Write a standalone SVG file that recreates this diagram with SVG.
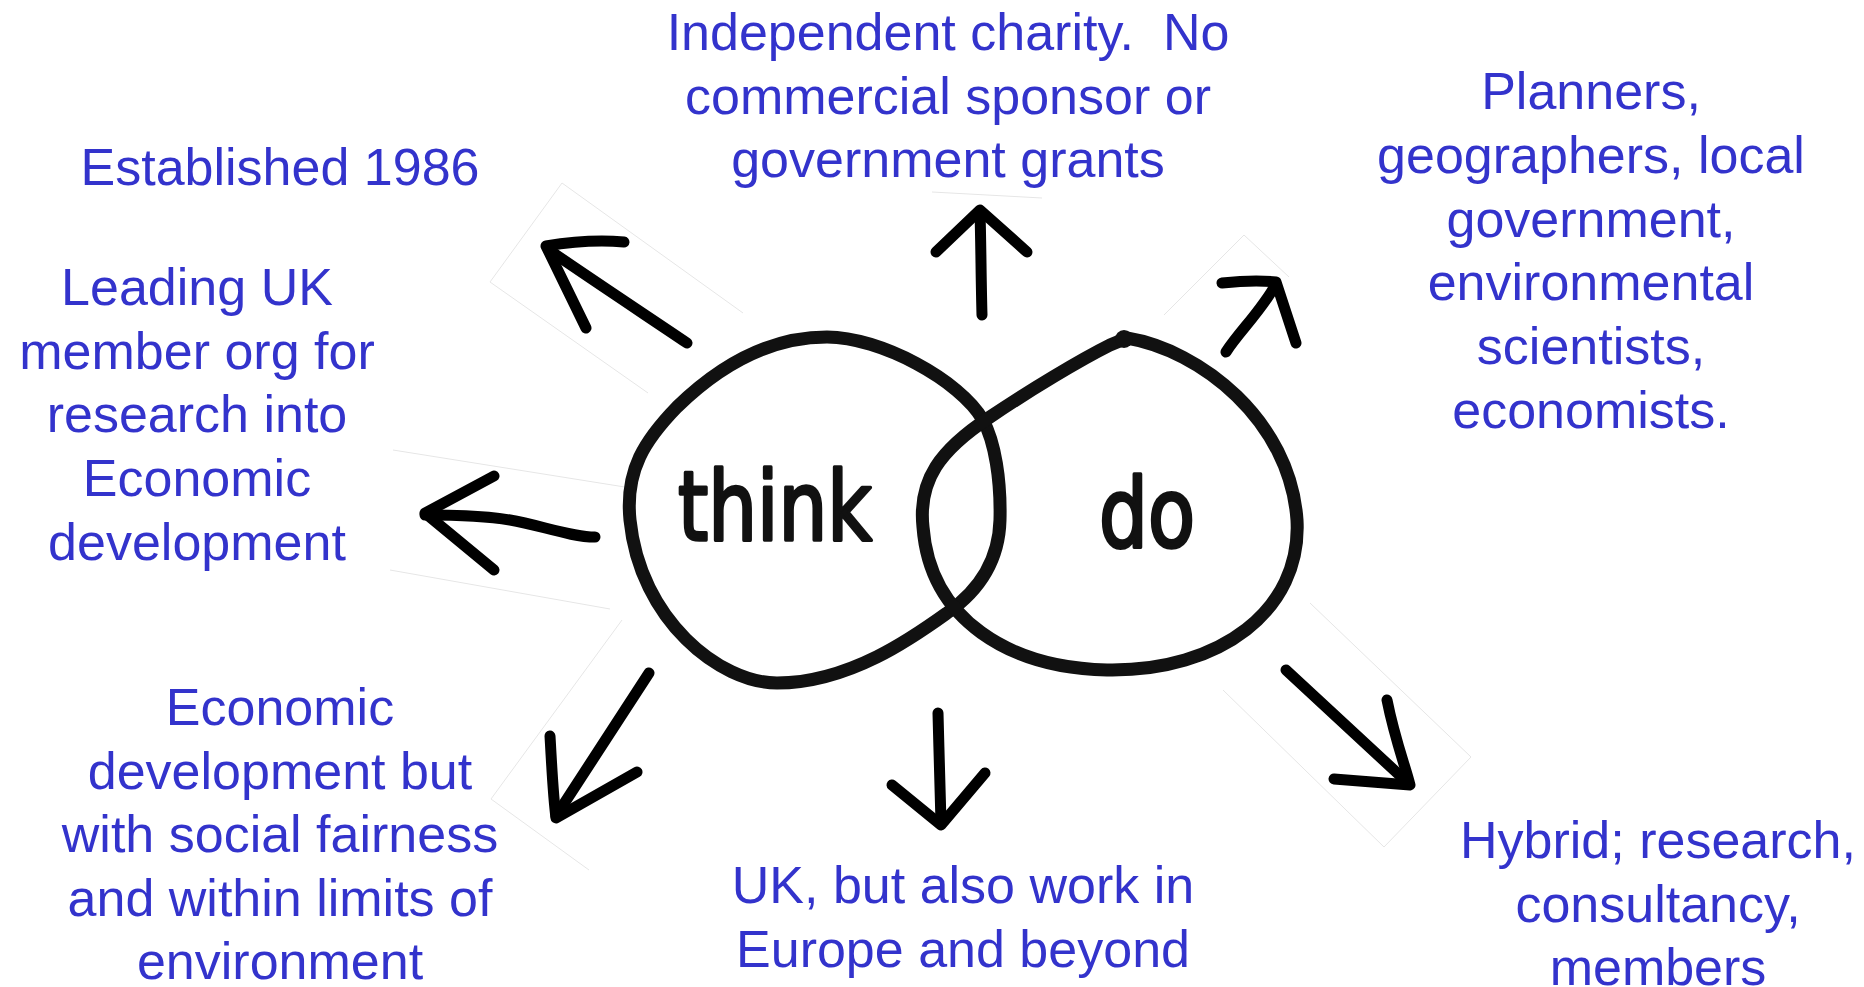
<svg xmlns="http://www.w3.org/2000/svg" width="1864" height="987" viewBox="0 0 1864 987">
  <defs>
    <style>
      .lbl { font-family: "Liberation Sans", Arial, sans-serif; font-size: 52px; fill: #3333cc; text-anchor: middle; }
      .hand { font-family: "DejaVu Sans", sans-serif; font-weight: normal; font-size: 96px; fill: #111111; stroke: #111111; stroke-width: 3.5; stroke-linejoin: round; }
      .loop { fill: none; stroke: #111111; stroke-width: 13; stroke-linecap: round; stroke-linejoin: round; }
      .arrow { fill: none; stroke: #000000; stroke-width: 11; stroke-linecap: round; stroke-linejoin: round; }
      .edge { fill: none; stroke: #e6e6e6; stroke-width: 1; }
    </style>
  </defs>
  <rect x="0" y="0" width="1864" height="987" fill="#ffffff"/>

  <g id="faint-edges">
    <path class="edge" d="M562,183 L490,282 L648,393 M562,183 L743,313"/>
    <path class="edge" d="M393,450 L631,488 M390,570 L610,609"/>
    <path class="edge" d="M622,620 L491,799 L589,870"/>
    <path class="edge" d="M1310,603 L1471,757 L1384,847 L1223,690"/>
    <path class="edge" d="M1244,235 L1164,315 M1244,235 L1289,277"/>
    <path class="edge" d="M932,192 L1042,198"/>
  </g>

  <g id="think-circle">
    <path class="loop" d="M827,337 C880,337 960,380 983,420 C995,442 1001,480 1000,520 C999,560 980,590 947,613 C915,636 850,683 777,683 C720,683 640,620 630,520 C625,470 645,440 677,407 C720,365 770,337 827,337 Z"/>
    <text class="hand" x="678" y="540" textLength="194" lengthAdjust="spacingAndGlyphs">think</text>
  </g>

  <g id="do-circle">
    <path class="loop" d="M1127,338 C1200,350 1290,420 1297,520 C1302,610 1220,672 1107,670 C1010,668 930,620 923,527 C918,480 940,450 990,417 C1030,390 1080,360 1110,345 L1127,338 Z"/>
    <circle cx="1124" cy="339" r="9" fill="#111111"/>
    <text class="hand" x="1099" y="547" textLength="96" lengthAdjust="spacingAndGlyphs">do</text>
  </g>

  <g id="connectors">
    <path class="arrow" d="M687,343 C650,318 600,285 549,250"/>
    <path class="arrow" d="M624,242 C600,240 570,242 546,246 L586,328"/>
    <path class="arrow" d="M982,315 C981,280 981,245 980,212"/>
    <path class="arrow" d="M936,252 L980,210 L1027,252"/>
    <path class="arrow" d="M1226,352 C1238,333 1262,310 1276,284"/>
    <path class="arrow" d="M1222,283 C1240,281 1260,280 1276,282 L1296,343"/>
    <path class="arrow" d="M595,537 C570,537 540,525 510,520 C480,515 450,515 425,515"/>
    <path class="arrow" d="M494,476 L425,513 L494,570"/>
    <path class="arrow" d="M649,673 L556,816"/>
    <path class="arrow" d="M550,736 C552,770 553,795 556,818 L637,772"/>
    <path class="arrow" d="M938,713 C939,750 940,790 941,823"/>
    <path class="arrow" d="M892,785 L941,825 L985,773"/>
    <path class="arrow" d="M1286,670 L1408,783"/>
    <path class="arrow" d="M1387,700 C1395,740 1405,765 1410,785 L1334,779"/>
  </g>

  <g id="established">
    <text class="lbl" x="280" y="185">Established 1986</text>
  </g>

  <g id="charity">
    <text class="lbl" x="948" y="50" xml:space="preserve">Independent charity.  No</text>
    <text class="lbl" x="948" y="114">commercial sponsor or</text>
    <text class="lbl" x="948" y="177">government grants</text>
  </g>

  <g id="planners">
    <text class="lbl" x="1591" y="109">Planners,</text>
    <text class="lbl" x="1591" y="173">geographers, local</text>
    <text class="lbl" x="1591" y="237">government,</text>
    <text class="lbl" x="1591" y="300">environmental</text>
    <text class="lbl" x="1591" y="364">scientists,</text>
    <text class="lbl" x="1591" y="428">economists.</text>
  </g>

  <g id="leading">
    <text class="lbl" x="197" y="305">Leading UK</text>
    <text class="lbl" x="197" y="369">member org for</text>
    <text class="lbl" x="197" y="432">research into</text>
    <text class="lbl" x="197" y="496">Economic</text>
    <text class="lbl" x="197" y="560">development</text>
  </g>

  <g id="fairness">
    <text class="lbl" x="280" y="725">Economic</text>
    <text class="lbl" x="280" y="789">development but</text>
    <text class="lbl" x="280" y="852">with social fairness</text>
    <text class="lbl" x="280" y="916">and within limits of</text>
    <text class="lbl" x="280" y="979">environment</text>
  </g>

  <g id="uk-europe">
    <text class="lbl" x="963" y="903">UK, but also work in</text>
    <text class="lbl" x="963" y="967">Europe and beyond</text>
  </g>

  <g id="hybrid">
    <text class="lbl" x="1658" y="858">Hybrid; research,</text>
    <text class="lbl" x="1658" y="922">consultancy,</text>
    <text class="lbl" x="1658" y="985">members</text>
  </g>
</svg>
